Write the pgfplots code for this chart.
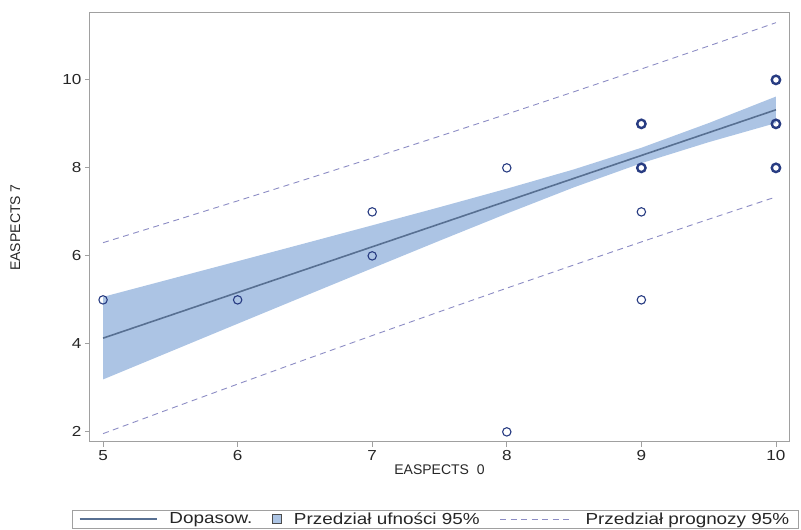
\documentclass[border=0pt]{standalone}
\usepackage{pgfplots}
\pgfplotsset{compat=1.18}
\usepackage{fontspec}
\setmainfont{Liberation Sans}
\newfontfamily\legfont[FakeStretch=1.18]{Liberation Sans}
\definecolor{band}{RGB}{172,196,228}
\definecolor{fitc}{RGB}{88,112,146}
\definecolor{predc}{RGB}{140,140,196}
\definecolor{markc}{RGB}{40,60,130}
\definecolor{framec}{RGB}{160,160,160}
\begin{document}
\begin{tikzpicture}
\useasboundingbox (0,0) rectangle (801pt,530pt);
\begin{axis}[
  at={(90pt,88pt)}, anchor=south west,
  scale only axis, width=699pt, height=429pt,
  xmin=4.903, xmax=10.097, ymin=1.77, ymax=11.52,
  xtick={5,6,7,8,9,10}, ytick={2,4,6,8,10},
  tick align=outside, tick pos=left,
  major tick length=5pt,
  axis line style={framec, line width=1pt},
  every tick/.style={framec, line width=0.8pt},
  tick label style={font=\legfont\fontsize{14.5}{17}\selectfont, text=black!85},
  /pgf/number format/assume math mode=true,
  xlabel={EASPECTS\ \ 0}, ylabel={EASPECTS 7},
  label style={font=\fontsize{14}{16}\selectfont, text=black!85},
  xlabel style={at={(axis description cs:0.5,-0.065)}, anchor=center},
  ylabel style={at={(axis description cs:-0.107,0.5)}, anchor=center},
  legend style={at={(axis description cs:0.4936,-0.1795)}, anchor=center,
    legend columns=3, draw=framec, line width=0.6pt,
    font=\legfont\fontsize{16}{18}\selectfont, text=black!85,
    inner xsep=7pt, inner ysep=0.5pt,
    /tikz/every odd column/.append style={column sep=10pt},
    /tikz/every even column/.append style={column sep=18pt}},
]
% confidence band
\addplot[fill=band, draw=none, forget plot] coordinates {
(5,3.192) (5.5,3.825) (6,4.458) (6.5,5.089) (7,5.718) (7.5,6.344) (8,6.961) (8.5,7.559) (9,8.107) (9.5,8.584) (10,9.019)
(10,9.621) (9.5,9.018) (9,8.457) (8.5,7.967) (8,7.527) (7.5,7.106) (7,6.694) (6.5,6.285) (6,5.878) (5.5,5.473) (5,5.068)
} -- cycle;
% fit
\addplot[fitc, line width=1.6pt, forget plot] coordinates {(5,4.13) (10,9.32)};
% prediction limits
\addplot[predc, line width=0.9pt, dash pattern=on 6pt off 4.5pt, forget plot] coordinates {
(5,1.960) (5.5,2.526) (6,3.086) (6.5,3.641) (7,4.189) (7.5,4.731) (8,5.267) (8.5,5.795) (9,6.317) (9.5,6.832) (10,7.340)};
\addplot[predc, line width=0.9pt, dash pattern=on 6pt off 4.5pt, forget plot] coordinates {
(5,6.300) (5.5,6.772) (6,7.250) (6.5,7.733) (7,8.223) (7.5,8.719) (8,9.221) (8.5,9.731) (9,10.247) (9.5,10.770) (10,11.300)};
% observations
\addplot[only marks, mark=o, mark size=4.2pt, mark options={markc, line width=1.1pt}, forget plot] coordinates {
(5,5) (6,5) (7,7) (7,6) (8,8) (8,2) (9,7) (9,5)};
\addplot[only marks, mark=o, mark size=4.2pt, mark options={markc, line width=2.4pt}, forget plot] coordinates {
(9,9) (9,8) (10,10) (10,9) (10,8)};
% legend
\addlegendimage{legend image code/.code={\draw[fitc, line width=1.6pt] (0pt,0pt) -- (77pt,0pt);}}
\addlegendentry{Dopasow.}
\addlegendimage{legend image code/.code={\draw[fill=band, draw=black!70, line width=0.6pt] (-4.5pt,-4.5pt) rectangle (4.5pt,4.5pt);}}
\addlegendentry{Przedział ufności 95\%}
\addlegendimage{legend image code/.code={\draw[predc, line width=0.9pt, dash pattern=on 6pt off 4.5pt] (0pt,0pt) -- (73pt,0pt);}}
\addlegendentry{Przedział prognozy 95\%}
\end{axis}
\end{tikzpicture}
\end{document}
